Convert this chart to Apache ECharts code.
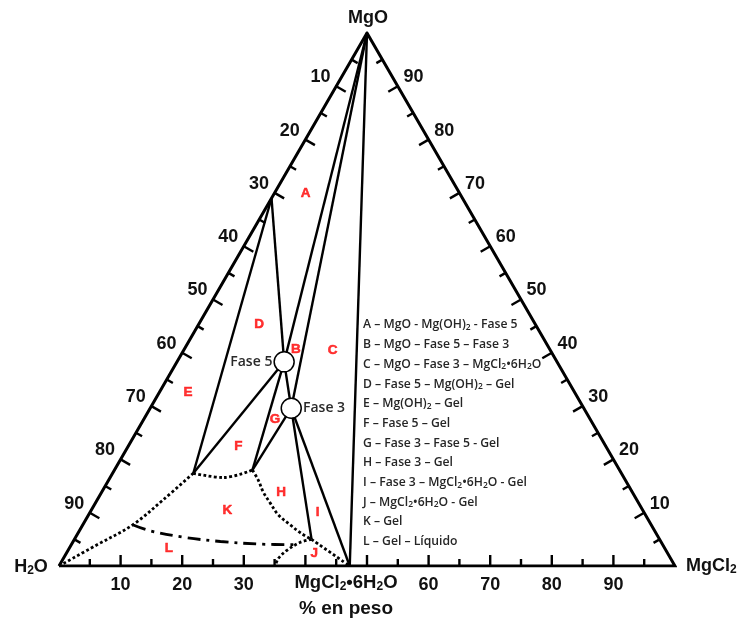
<!DOCTYPE html>
<html><head><meta charset="utf-8">
<script src="https://cdn.jsdelivr.net/npm/echarts@6/dist/echarts.min.js"></script>
<style>html,body{margin:0;padding:0;background:#fff}#c{width:741px;height:625px}</style>
</head><body><div id="c"></div>
<script>
// Compositions given as [MgO %, MgCl2 %] (H2O = remainder)
const VERTEX_MGO = [100, 0];
const VERTEX_H2O = [0, 0];
const VERTEX_MGCL2 = [0, 100];
const MGOH2 = [69.0, 0];
const FASE5 = [38.3, 17.4];
const FASE3 = [29.6, 22.9];
const HEXA = [0, 47.2];          // MgCl2·6H2O
const P1 = [17.4, 13.1];
const P2 = [18.0, 22.4];
const P3 = [5.0, 38.5];

const solidSegments = [
  [VERTEX_MGO, HEXA], [VERTEX_MGO, FASE5], [VERTEX_MGO, FASE3],
  [MGOH2, FASE5], [MGOH2, P1], [FASE5, P1], [FASE5, P2], [FASE5, FASE3],
  [FASE3, P2], [FASE3, P3], [FASE3, HEXA]
];
const dottedP1P2 = [P1, [16.6, 18.4], P2];
const dottedP2P3 = [P2, [16.1, 24.3], [13.9, 26.2], [11.8, 28.4], [9.6, 30.8], [7.7, 33.7], [6.1, 36.3], P3];
const dottedP3Hexa = [P3, HEXA];
const dottedJ = [P3, [4.4, 36.9], [2.9, 35.5], [1.4, 34.9], [0, 35.1]];
const dottedLeft = [P1, [12.4, 10.7], [7.7, 8.1], [3.9, 4.1], VERTEX_H2O];
const dashDot = [[7.7, 8.2], [6.6, 11.5], [5.4, 17.5], [4.6, 23.9], [4.1, 30.6], [4.0, 36.6]];

const regionNames = ['A','B','C','D','E','F','G','H','I','J','K','L'];
const regionPos = [[69.9,5.1],[40.7,18.1],[40.4,24.2],[45.4,9.8],[32.5,4.7],[22.4,17.9],[27.5,21.3],[13.9,29.1],[10.0,37.0],[2.3,40.3],[10.5,22.1],[3.3,16.2]];

const phaseNames = ['Fase 5', 'Fase 3'];
const phasePos = [FASE5, FASE3];

const tickValues = [5,10,15,20,25,30,35,40,45,50,55,60,65,70,75,80,85,90,95];
const leftLabelValues = [10,20,30,40,50,60,70,80,90];      // % H2O along left edge
const leftLabels = ['10','20','30','40','50','60','70','80','90'];
const rightLabelValues = [90,80,70,60,50,40,30,20,10];     // % MgO along right edge
const rightLabels = ['90','80','70','60','50','40','30','20','10'];
const bottomLabelValues = [10,20,30,60,70,80,90];          // % MgCl2 along bottom
const bottomLabels = ['10','20','30','60','70','80','90'];

const legendLines = [
  'A – MgO - Mg(OH){s|2} - Fase 5',
  'B – MgO – Fase 5 – Fase 3',
  'C – MgO – Fase 3 – MgCl{s|2}•6H{s|2}O',
  'D – Fase 5 – Mg(OH){s|2} – Gel',
  'E – Mg(OH){s|2} – Gel',
  'F – Fase 5 – Gel',
  'G – Fase 3 – Fase 5 - Gel',
  'H – Fase 3 – Gel',
  'I – Fase 3 – MgCl{s|2}•6H{s|2}O - Gel',
  'J – MgCl{s|2}•6H{s|2}O - Gel',
  'K – Gel',
  'L – Gel – Líquido'
];

const toXY = c => [c[1] + c[0] / 2, c[0]];

const S = 0.8660254;
const EDGES = [
  { comp: v => [100 - v, 0], inward: [S, 0.5], out: [-S, -0.5] },   // left (H2O %)
  { comp: v => [v, 100 - v], inward: [-S, 0.5], out: [S, -0.5] },   // right (MgO %)
  { comp: v => [0, v], inward: [0, -1], out: [0, 1] }               // bottom (MgCl2 %)
];

const tickData = [];
for (let e = 0; e < 3; e++) tickValues.forEach(v => tickData.push([e, v]));
const labelData = [], labelTexts = [];
leftLabelValues.forEach((v, i) => { labelData.push([0, v]); labelTexts.push(leftLabels[i]); });
rightLabelValues.forEach((v, i) => { labelData.push([1, v]); labelTexts.push(rightLabels[i]); });
bottomLabelValues.forEach((v, i) => { labelData.push([2, v]); labelTexts.push(bottomLabels[i]); });

const FONT = '"Liberation Sans", Arial, sans-serif';
const dotted = [2.8, 2.4];
const subBig = { s: { fontSize: 12, fontWeight: 'bold', fontFamily: 'Liberation Sans', lineHeight: 8, verticalAlign: 'bottom' } };

function curve(data, type) {
  return {
    type: 'line', data: data.map(toXY), showSymbol: false, symbol: 'none', smooth: 0.35,
    lineStyle: { color: '#000', width: 2.8, type: type }, silent: true, z: 3, animation: false
  };
}

const chart = echarts.init(document.getElementById('c'));
chart.setOption({
  animation: false,
  backgroundColor: '#fff',
  grid: { left: 59, top: 33, width: 616, height: 533 },
  xAxis: { type: 'value', min: 0, max: 100, show: false },
  yAxis: { type: 'value', min: 0, max: 100, show: false },
  series: [
    { type: 'line', data: [VERTEX_H2O, VERTEX_MGCL2, VERTEX_MGO, VERTEX_H2O].map(toXY), showSymbol: false, symbol: 'none',
      lineStyle: { color: '#000', width: 3, join: 'miter' }, z: 5, silent: true },
    { type: 'custom', data: tickData, clip: false, silent: true, z: 5,
      renderItem: (params, api) => {
        const e = EDGES[api.value(0)], v = api.value(1);
        const p = api.coord(toXY(e.comp(v)));
        const L = v % 10 === 0 ? 11 : 7;
        return { type: 'line', shape: { x1: p[0], y1: p[1], x2: p[0] + e.inward[0] * L, y2: p[1] + e.inward[1] * L },
          style: { stroke: '#000', lineWidth: 2.4 } };
      } },
    { type: 'custom', data: labelData, clip: false, silent: true, z: 6,
      renderItem: (params, api) => {
        const e = EDGES[api.value(0)], v = api.value(1);
        const p = api.coord(toXY(e.comp(v)));
        const d = api.value(0) === 2 ? 19 : 18;
        return { type: 'text', x: p[0] + e.out[0] * d, y: p[1] + e.out[1] * d,
          style: { text: labelTexts[params.dataIndex], fill: '#111', font: 'bold 18px ' + FONT, align: 'center', verticalAlign: 'middle' } };
      } },
    { type: 'lines', coordinateSystem: 'cartesian2d', silent: true, z: 3,
      data: solidSegments.map(s => ({ coords: s.map(toXY) })),
      lineStyle: { color: '#000', width: 2.4, opacity: 1 } },
    curve(dottedP1P2, dotted),
    curve(dottedP2P3, dotted),
    curve(dottedP3Hexa, dotted),
    curve(dottedJ, dotted),
    curve(dottedLeft, dotted),
    curve(dashDot, [13, 6, 3, 6]),
    { type: 'scatter', data: phasePos.map((p, i) => ({ value: toXY(p), name: phaseNames[i],
        label: { position: i === 0 ? 'left' : 'right' } })),
      symbol: 'circle', symbolSize: 20, z: 8, silent: true,
      itemStyle: { color: '#fff', borderColor: '#000', borderWidth: 1.5, opacity: 1 },
      label: { show: true, formatter: '{b}', distance: 1, color: '#2a2a2a', fontSize: 14, fontWeight: 600, fontFamily: '"Open Sans", sans-serif' } },
    { type: 'scatter', data: regionPos.map((p, i) => ({ value: toXY(p), name: regionNames[i] })),
      symbolSize: 0, z: 7, silent: true,
      label: { show: true, position: 'inside', formatter: '{b}', color: '#ff0000', fontSize: 13.5, fontWeight: 'bold', fontFamily: FONT,
        textBorderColor: '#ff0000', textBorderWidth: 0.5 } }
  ],
  graphic: [
    { type: 'text', x: 368, y: 18, style: { text: 'MgO', font: 'bold 18px ' + FONT, fill: '#111', align: 'center', verticalAlign: 'middle' } },
    { type: 'text', x: 31, y: 567, style: { text: 'H{s|2}O', font: 'bold 18px ' + FONT, fill: '#111', align: 'center', verticalAlign: 'middle', lineHeight: 20, rich: subBig } },
    { type: 'text', x: 686, y: 566, style: { text: 'MgCl{s|2}', font: 'bold 18px ' + FONT, fill: '#111', align: 'left', verticalAlign: 'middle', lineHeight: 20, rich: subBig } },
    { type: 'text', x: 346, y: 583, style: { text: 'MgCl{s|2}•6H{s|2}O', font: 'bold 18.5px ' + FONT, fill: '#111', align: 'center', verticalAlign: 'middle', lineHeight: 20, rich: subBig } },
    { type: 'text', x: 346, y: 609, style: { text: '% en peso', font: 'bold 19px ' + FONT, fill: '#111', align: 'center', verticalAlign: 'middle' } }
  ].concat(legendLines.map((t, i) => ({
    type: 'text', x: 363, y: 325 + i * 19.7,
    style: { text: t, font: '600 12.2px "Open Sans", sans-serif', fill: '#262626', align: 'left', verticalAlign: 'middle', lineHeight: 14,
      rich: { s: { fontSize: 8.5, fontWeight: 600, fontFamily: 'Open Sans', lineHeight: 6, verticalAlign: 'bottom' } } }
  })))
});
</script></body></html>
